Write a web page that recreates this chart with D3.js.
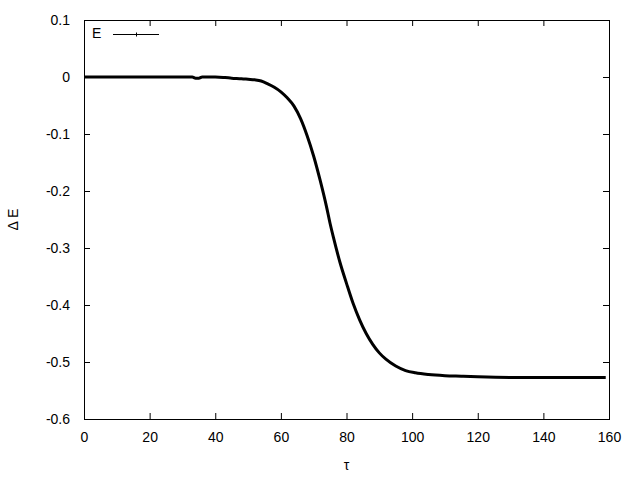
<!DOCTYPE html>
<html>
<head>
<meta charset="utf-8">
<script src="https://cdn.jsdelivr.net/npm/d3@7"></script>
<style>
  body { margin: 0; background: #fff; }
  text { font-family: "Liberation Sans", Arial, sans-serif; font-size: 14px; fill: #000; }
</style>
</head>
<body>
<svg width="640" height="480"></svg>
<script>
// values
var tau = [0, 5, 10, 15, 20, 25, 30, 33, 34, 35, 36, 40, 43, 45, 48, 50, 52, 54, 56, 58,
           60, 62, 64, 66, 68, 70, 72, 74, 75, 76, 78, 80, 82, 84, 86, 88, 90, 92, 95, 98,
           101, 105, 110, 115, 120, 130, 140, 150, 159];
var dE = [0, 0, 0, 0, 0, 0, 0, 0, -0.002, -0.002, 0, 0, -0.001, -0.002, -0.003, -0.004, -0.005, -0.007, -0.012, -0.018,
          -0.026, -0.037, -0.051, -0.073, -0.103, -0.139, -0.182, -0.230, -0.257, -0.281, -0.325, -0.362, -0.397, -0.426, -0.450, -0.469, -0.484, -0.495, -0.507, -0.515,
          -0.519, -0.522, -0.524, -0.525, -0.526, -0.527, -0.527, -0.527, -0.527];
var xTicks = [0, 20, 40, 60, 80, 100, 120, 140, 160];
var yTicks = [0.1, 0, -0.1, -0.2, -0.3, -0.4, -0.5, -0.6];
var seriesName = "E";

function main() {
    var svg = d3.select("svg"),
        margin = {top: 20, right: 31, bottom: 61, left: 84},
        width = 640 - margin.left - margin.right,
        height = 480 - margin.top - margin.bottom;

    var g = svg.append("g")
        .attr("transform", `translate(${margin.left},${margin.top})`);

    var x = d3.scaleLinear().domain([0, 160]).range([0, width]);
    var y = d3.scaleLinear().domain([-0.6, 0.1]).range([height, 0]);

    var fmt = function(d) { return d3.format(".1~f")(d).replace("−", "-"); };

    // bottom + top axes, ticks pointing inward
    var xb = g.append("g")
        .attr("transform", `translate(0,${height})`)
        .call(d3.axisBottom(x).tickValues(xTicks).tickSizeInner(-6).tickSizeOuter(0).tickPadding(13)
              .tickFormat(d3.format("d")));
    g.append("g")
        .call(d3.axisTop(x).tickValues(xTicks).tickSizeInner(-6).tickSizeOuter(0).tickFormat(""));

    // left + right axes
    var yl = g.append("g")
        .call(d3.axisLeft(y).tickValues(yTicks).tickSizeInner(-6).tickSizeOuter(0).tickPadding(14)
              .tickFormat(fmt));
    g.append("g")
        .attr("transform", `translate(${width},0)`)
        .call(d3.axisRight(y).tickValues(yTicks).tickSizeInner(-6).tickSizeOuter(0).tickFormat(""));

    g.selectAll(".domain").remove();
    g.selectAll(".tick line").attr("stroke", "#000");
    g.selectAll(".tick text").style("font-family", "Liberation Sans, Arial, sans-serif").style("font-size", "14px");

    // frame
    g.append("rect")
        .attr("x", 0.5).attr("y", 0.5)
        .attr("width", width).attr("height", height)
        .attr("fill", "none").attr("stroke", "#000");

    // curve
    var pts = tau.map((t, i) => [t, dE[i]]);
    g.append("path")
        .datum(pts)
        .attr("fill", "none")
        .attr("stroke", "#000")
        .attr("stroke-width", 3)
        .attr("d", d3.line().x(d => x(d[0])).y(d => y(d[1])).curve(d3.curveMonotoneX));

    // legend
    g.append("text").attr("x", 8).attr("y", 18).text(seriesName);
    g.append("line").attr("x1", 29).attr("x2", 75).attr("y1", 14.5).attr("y2", 14.5)
        .attr("stroke", "#000");
    g.append("line").attr("x1", 52.5).attr("x2", 52.5).attr("y1", 12.5).attr("y2", 16.5)
        .attr("stroke", "#000");

    // axis labels
    svg.append("text")
        .attr("x", margin.left + width / 2)
        .attr("y", 470)
        .attr("text-anchor", "middle")
        .text("τ");
    svg.append("text")
        .attr("transform", `translate(18,${margin.top + height / 2}) rotate(-90)`)
        .attr("text-anchor", "middle")
        .text("Δ E");
}
main();
</script>
</body>
</html>
